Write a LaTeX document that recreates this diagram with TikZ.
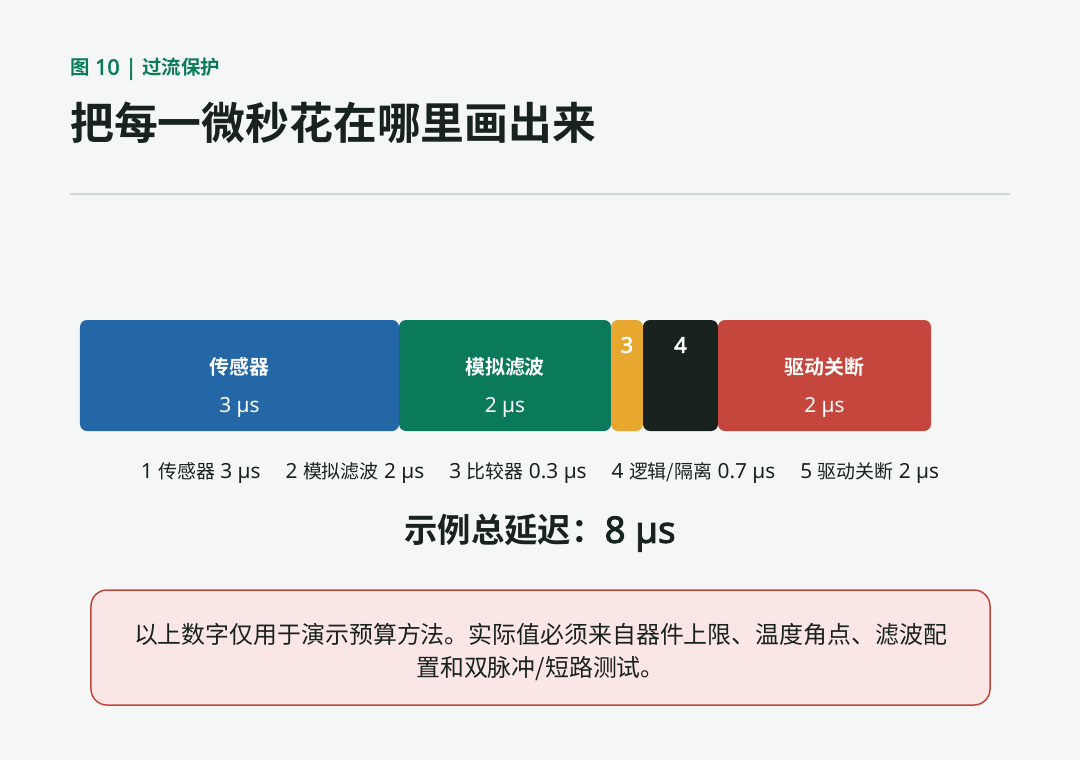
\documentclass[tikz,border=0pt]{standalone}
\usepackage{fontspec}
\setmainfont{Noto Sans}[Scale=1.1,AutoFakeBold=2.5]
\newfontfamily\cjk{Noto Sans CJK SC}[BoldFont={* Bold}]
\newcommand\zh[1]{{\cjk #1}}
\definecolor{bgpage}{HTML}{F5F7F6}
\definecolor{ink}{HTML}{18221F}
\definecolor{cgreen}{HTML}{0B7A5A}
\definecolor{cblue}{HTML}{2467A6}
\definecolor{cyellow}{HTML}{E8A830}
\definecolor{cred}{HTML}{C4463C}
\definecolor{crule}{HTML}{CFD8D6}
\definecolor{notefill}{HTML}{FAE6E5}
\tikzset{
  bar/.style={rectangle,rounded corners=7bp,inner sep=0pt,outer sep=0pt,minimum height=111bp},
  barname/.style={text=white,font=\bfseries\fontsize{20}{22}\selectfont},
  bartime/.style={text=white,font=\fontsize{19}{22}\selectfont},
}
\begin{document}
\begin{tikzpicture}[x=1bp,y=-1bp]
\fill[bgpage] (0,0) rectangle (1080,760);
\useasboundingbox (0,0) rectangle (1080,760);
% heading
\node[anchor=west,text=cgreen,font=\bfseries\fontsize{19.5}{22}\selectfont,inner sep=0pt] (fig) at (70,69) {\zh{图} 10 | \zh{过流保护}};
\node[anchor=west,text=ink,font=\cjk\bfseries\fontsize{44}{48}\selectfont,inner sep=0pt] (title) at (70,123) {把每一微秒花在哪里画出来};
\draw[crule,line width=2bp] (70,194)--(1010,194);
% time budget bars
\foreach \x/\w/\c/\n in {80/319/cblue/sensor,399/212/cgreen/filter,611/32/cyellow/comp,643/75/ink/logic,718/213/cred/drive}{
  \node[bar,fill=\c,minimum width=\w bp] (\n) at (\x+\w/2,375.5) {};
}
\node[barname] (sensorname) at (239.5,367) {\zh{传感器}};
\node[bartime] (sensortime) at (239.5,407.5) {3 µs};
\node[barname] (filtername) at (505,367) {\zh{模拟滤波}};
\node[bartime] (filtertime) at (505,407.5) {2 µs};
\node[barname] (compname) at (627,345) {3};
\node[barname] (logicname) at (680.5,345) {4};
\node[barname] (drivename) at (824.5,367) {\zh{驱动关断}};
\node[bartime] (drivetime) at (824.5,407.5) {2 µs};
% legend
\node[text=ink,font=\fontsize{19}{22}\selectfont] (legend) at (540,473)
  {1 \zh{传感器} 3 µs\hspace{25bp}2 \zh{模拟滤波} 2 µs\hspace{25bp}3 \zh{比较器} 0.3 µs\hspace{25bp}4 \zh{逻辑/隔离} 0.7 µs\hspace{25bp}5 \zh{驱动关断} 2 µs};
\node[text=ink,font=\bfseries\fontsize{33.5}{36}\selectfont] (total) at (540,533) {\zh{示例总延迟：}8 µs};
% note
\node[draw=cred,line width=1.5bp,fill=notefill,rounded corners=16bp,minimum width=899bp,minimum height=115bp,
  text width=860bp,align=center,text=ink,font=\cjk\fontsize{24}{33}\selectfont] (note) at (540.5,647.5)
  {\rule{0pt}{30bp}以上数字仅用于演示预算方法。实际值必须来自器件上限、温度角点、滤波配\\置和双脉冲/短路测试。};
\end{tikzpicture}
\end{document}
